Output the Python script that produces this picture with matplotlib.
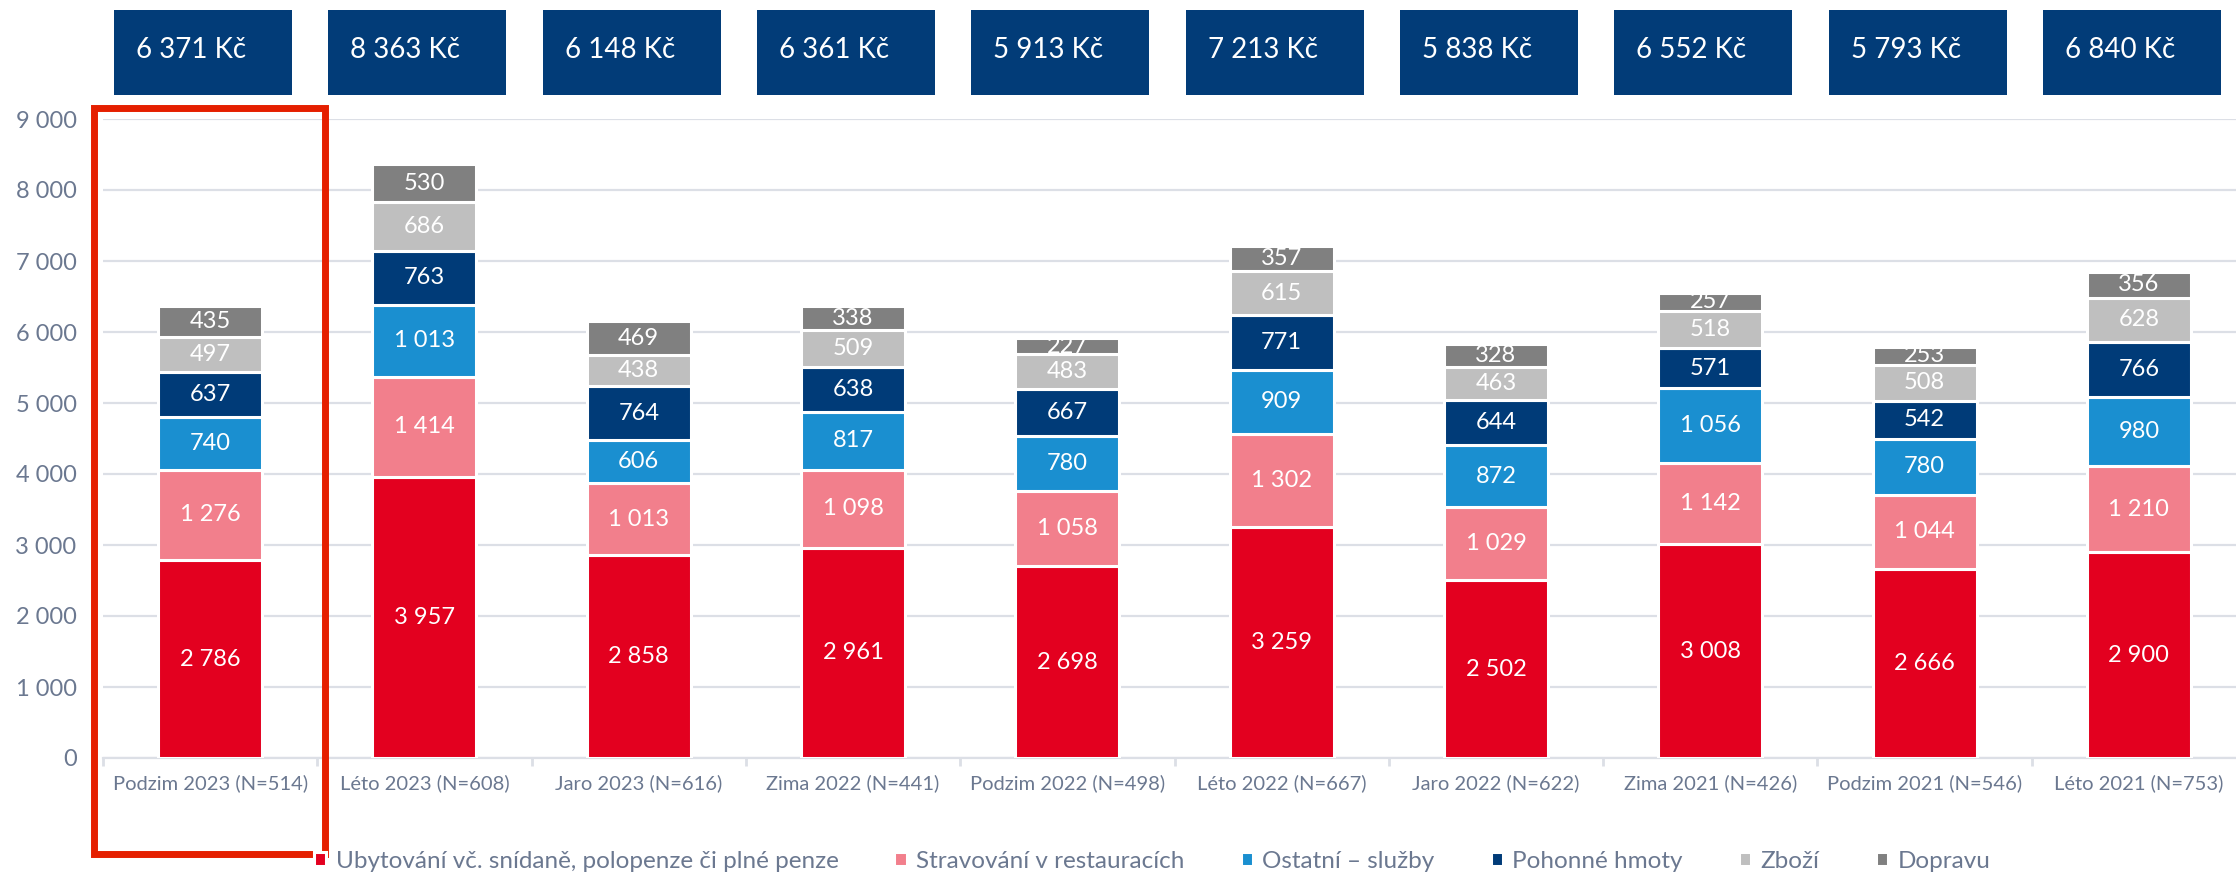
import matplotlib
matplotlib.use("Agg")
import matplotlib.pyplot as plt
from matplotlib.patches import Rectangle
from matplotlib.transforms import Bbox, TransformedBbox
import numpy as np

plt.rcParams['font.family'] = ['Lato', 'DejaVu Sans']

categories = ["Podzim 2023 (N=514)", "Léto 2023 (N=608)", "Jaro 2023 (N=616)",
              "Zima 2022 (N=441)", "Podzim 2022 (N=498)", "Léto 2022 (N=667)",
              "Jaro 2022 (N=622)", "Zima 2021 (N=426)", "Podzim 2021 (N=546)",
              "Léto 2021 (N=753)"]
series_names = ["Ubytování vč. snídaně, polopenze či plné penze",
                "Stravování v restauracích", "Ostatní – služby",
                "Pohonné hmoty", "Zboží", "Dopravu"]
ubytovani = [2786, 3957, 2858, 2961, 2698, 3259, 2502, 3008, 2666, 2900]
stravovani = [1276, 1414, 1013, 1098, 1058, 1302, 1029, 1142, 1044, 1210]
sluzby = [740, 1013, 606, 817, 780, 909, 872, 1056, 780, 980]
pohonne = [637, 763, 764, 638, 667, 771, 644, 571, 542, 766]
zbozi = [497, 686, 438, 509, 483, 615, 463, 518, 508, 628]
dopravu = [435, 530, 469, 338, 227, 357, 328, 257, 253, 356]
totals = ["6 371 Kč", "8 363 Kč", "6 148 Kč", "6 361 Kč", "5 913 Kč",
          "7 213 Kč", "5 838 Kč", "6 552 Kč", "5 793 Kč", "6 840 Kč"]
yticks = [0, 1000, 2000, 3000, 4000, 5000, 6000, 7000, 8000, 9000]

colors = ["#E3001F", "#F27F8C", "#1A8FD0", "#003B78", "#BFBFBF", "#808080"]
navy = "#023C78"
text_gray = "#6B7890"
grid_col = "#DCDFE6"

W, H = 2236, 873
fig = plt.figure(figsize=(W / 100, H / 100), dpi=100)
ax = fig.add_axes([103 / W, 1 - 758 / H, 2143 / W, 639 / H])

def fmt(v):
    return f"{v:,}".replace(",", " ")

x = np.arange(len(categories))
ax.set_xlim(-0.5, len(categories) - 0.5)
ax.set_ylim(0, 9000)

bottom = np.zeros(len(categories))
all_series = [ubytovani, stravovani, sluzby, pohonne, zbozi, dopravu]
handles = []
for vals, col, name in zip(all_series, colors, series_names):
    vals = np.array(vals, dtype=float)
    bars = ax.bar(x, vals, width=0.485, bottom=bottom, color=col,
                  edgecolor="white", linewidth=2.2, label=name, zorder=3)
    handles.append(bars)
    for xi, b, v in zip(x, bottom, vals):
        t = ax.text(xi, b + v / 2, fmt(int(v)), ha="center", va="center",
                    color="white", fontsize=17, zorder=4)
        clip = TransformedBbox(Bbox.from_extents(xi - 0.3, b, xi + 0.3, b + v), ax.transData)
        t.set_clip_box(clip)
        t.set_clip_on(True)
    bottom += vals

# axes styling
ax.set_yticks(yticks)
ax.set_yticklabels([fmt(v) for v in yticks])
ax.tick_params(axis="y", length=0, pad=19, labelsize=17, labelcolor=text_gray)
ax.set_xticks(x)
ax.set_xticklabels(categories)
ax.tick_params(axis="x", which="major", length=0, pad=12, labelsize=14.5, labelcolor=text_gray)
ax.set_xticks(np.arange(-0.5, len(categories)), minor=True)
ax.tick_params(axis="x", which="minor", length=6, width=2, color=grid_col)
ax.grid(axis="y", color=grid_col, linewidth=1.6, zorder=0)
ax.set_axisbelow(True)
for s in ["left", "right", "top"]:
    ax.spines[s].set_visible(False)
ax.spines["bottom"].set_color(grid_col)
ax.spines["bottom"].set_linewidth(1.6)

# total boxes above the chart
fig.canvas.draw()
box_top, box_bot = 10, 95
for xi, lab in zip(x, totals):
    cx = ax.transData.transform((xi, 0))[0]
    left_px = cx - 96
    fig.add_artist(Rectangle((left_px / W, 1 - box_bot / H), 178 / W, (box_bot - box_top) / H,
                             transform=fig.transFigure, facecolor=navy, edgecolor="none"))
    fig.text((left_px + 22) / W, 1 - 50 / H, lab, ha="left", va="center",
             color="white", fontsize=20)

# red highlight rectangle
fig.add_artist(Rectangle((93.5 / W, 1 - 854 / H), 231 / W, 746 / H,
                         transform=fig.transFigure, fill=False, edgecolor="#E51F00",
                         linewidth=5, clip_on=False))

fig.legend(handles=handles, labels=series_names, loc="center",
           bbox_to_anchor=(1152 / W, 1 - 861 / H), ncol=6, frameon=False,
           fontsize=17.5, labelcolor=text_gray, handlelength=0.5, handleheight=0.5,
           handletextpad=0.4, columnspacing=2.3, borderpad=0, borderaxespad=0)

fig.savefig("out.png", dpi=100)
